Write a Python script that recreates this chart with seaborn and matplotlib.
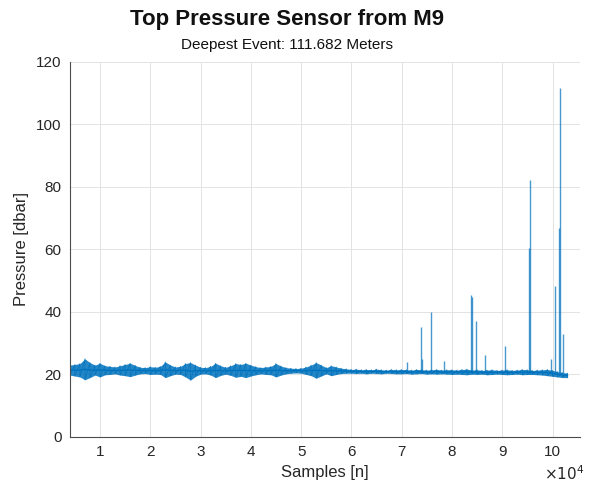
import numpy as np
import pandas as pd
import matplotlib
matplotlib.use("Agg")
import matplotlib.pyplot as plt
from matplotlib.ticker import FuncFormatter
import seaborn as sns

# baseline noise envelope, one reading every 1000 samples (0.4e4 .. 10.3e4)
sample_x = np.arange(4000, 103001, 1000)
band_hi = [23.0, 23.2, 23.5, 25.0, 23.8, 23.0,
           23.6, 22.8, 22.6, 22.4, 22.8, 23.2, 23.6, 22.9, 22.3, 22.2,
           22.5, 22.3, 22.6, 24.0, 23.0, 22.4, 22.6, 23.5, 23.8, 23.0,
           22.3, 22.2, 22.6, 23.6, 22.8, 22.3, 22.8, 23.5, 23.2, 23.6,
           23.0, 22.5, 22.2, 22.4, 22.6, 23.5, 22.7, 22.2, 22.0, 21.9,
           22.0, 22.4, 23.0, 23.8, 23.0, 22.2, 22.8, 22.4, 22.0, 21.8,
           21.6, 21.7, 21.5, 21.6, 21.5, 21.7, 21.5, 21.4, 21.6, 21.5,
           21.6, 21.5, 21.4, 21.6, 21.5, 21.4, 21.5, 21.6, 21.4, 21.5,
           21.5, 21.4, 21.6, 21.7, 21.4, 21.5, 21.3, 21.4, 21.5, 21.3,
           21.4, 21.5, 21.3, 21.4, 21.6, 21.5, 21.3, 21.4, 21.5, 21.6,
           21.3, 20.9, 20.6, 20.4]
band_lo = [19.8, 19.5, 19.2, 18.3, 19.0, 19.8,
           19.2, 19.9, 20.0, 20.2, 19.8, 19.6, 19.3, 19.8, 20.2, 20.3,
           20.0, 20.1, 20.0, 19.0, 19.6, 20.1, 20.0, 19.2, 18.2, 19.4,
           20.1, 20.2, 19.8, 19.0, 19.7, 20.1, 19.7, 19.1, 19.4, 19.0,
           19.5, 19.9, 20.2, 20.0, 19.9, 19.2, 19.8, 20.2, 20.4, 20.5,
           20.4, 20.0, 19.6, 18.8, 19.5, 20.2, 19.6, 20.0, 20.3, 20.4,
           20.4, 20.3, 20.4, 20.2, 20.4, 20.3, 20.2, 20.4, 20.3, 20.2,
           20.2, 20.3, 20.1, 20.2, 20.3, 20.1, 20.2, 20.1, 20.2, 20.1,
           20.0, 20.1, 20.0, 19.9, 20.1, 20.0, 20.1, 19.9, 20.0, 20.1,
           20.0, 19.9, 20.0, 20.1, 19.9, 20.0, 20.0, 19.9, 19.8, 19.6,
           19.4, 19.2, 19.0, 19.0]

# pressure spikes (sample index, peak dbar)
spike_x = [71000, 73900, 74000, 75900, 78400, 83700, 84000, 84800, 86600,
           90500, 95300, 95500, 99700, 100400, 101300, 101400, 102100]
spike_peak = [24.1, 35.3, 25.0, 39.9, 24.4, 45.4, 44.9, 37.2, 26.3,
              29.2, 60.5, 82.2, 25.0, 48.4, 67.0, 111.682, 33.0]

line_col = '#0072BD'

sns.set_style('white')
plt.rcParams['font.family'] = ['Liberation Sans', 'DejaVu Sans']

df = pd.DataFrame({'sample': np.concatenate([sample_x, sample_x]),
                   'pressure': band_hi + band_lo})

# hi/lo readings interleaved, drawn in sample order as a raw trace
zig = pd.DataFrame({'sample': np.repeat(sample_x, 2),
                    'pressure': np.ravel(np.column_stack([band_hi, band_lo]))})

fig = plt.figure(figsize=(5.92, 4.91), dpi=100)
ax = fig.add_axes([0.118, 0.110, 0.862, 0.764])

sns.lineplot(data=df, x='sample', y='pressure', estimator='mean',
             errorbar=('pi', 100), color=line_col, lw=1.0,
             err_kws={'alpha': 0.85, 'lw': 0}, ax=ax)
sns.lineplot(data=zig, x='sample', y='pressure', estimator=None, sort=False,
             color=line_col, lw=0.6, alpha=0.8, ax=ax)
ax.vlines(spike_x, 20.6, spike_peak, color=line_col, lw=1.0, alpha=0.72)

ax.set_xlim(4000, 105500)
ax.set_ylim(0, 120)
ax.set_xticks(np.arange(10000, 100001, 10000))
ax.set_yticks(np.arange(0, 121, 20))
ax.xaxis.set_major_formatter(FuncFormatter(lambda v, p: f'{v / 1e4:g}'))
ax.grid(True, color='#e3e3e3', lw=0.7)

for s in ['top', 'right']:
    ax.spines[s].set_visible(False)
for s in ['left', 'bottom']:
    ax.spines[s].set_color('#4d4d4d')
    ax.spines[s].set_linewidth(0.8)
ax.tick_params(direction='in', length=3, width=0.8, color='#4d4d4d',
               labelcolor='#262626', labelsize=11, pad=6)

ax.set_xlabel('Samples [n]', fontsize=12, color='#262626', labelpad=4)
ax.set_ylabel('Pressure [dbar]', fontsize=12, color='#262626', labelpad=5)
ax.text(0.930, -0.072, r'$\times10^4$', transform=ax.transAxes,
        fontsize=11, color='#262626', ha='left', va='top')

fig.text(287 / 592, 1 - 19 / 491, 'Top Pressure Sensor from M9',
         fontsize=16, fontweight='bold', ha='center', va='center', color='#111111')
fig.text(287 / 592, 1 - 45 / 491, 'Deepest Event: 111.682 Meters',
         fontsize=11, ha='center', va='center', color='#111111')

fig.savefig('out.png', dpi=100)
